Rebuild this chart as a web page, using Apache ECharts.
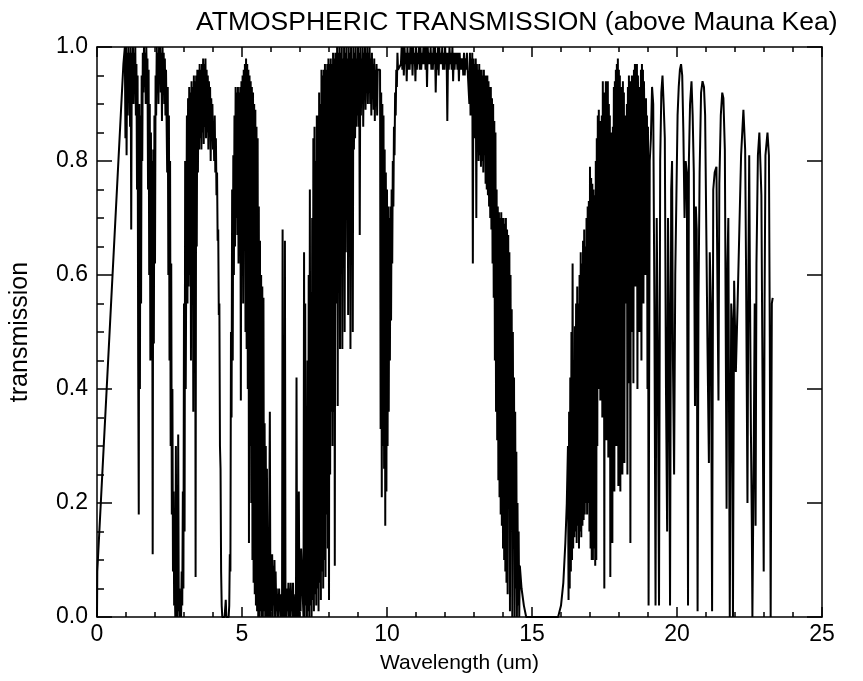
<!DOCTYPE html>
<html>
<head>
<meta charset="utf-8">
<title>Atmospheric transmission</title>
<script src="https://cdn.jsdelivr.net/npm/echarts@6/dist/echarts.min.js"></script>
<style>
  html, body { margin: 0; padding: 0; background: #fff; }
  #chart { width: 863px; height: 681px; }
</style>
</head>
<body>
<div id="chart"></div>
<script>
// wavelength (um) and transmission

// rise from 0 to the first window
const wlRise = [0, 0.01, 0.91];
const trRise = [0, 0.08, 0.97];

// J / H windows and the 1.4, 1.9 um water bands
const wlJH = [0.96,0.98,1.00,1.02,1.04,1.06,1.08,1.10,1.12,1.14,1.16,1.18,1.20,1.22,1.24,1.26,1.28,1.30,1.32,1.34,
  1.36,1.38,1.40,1.42,1.44,1.46,1.48,1.50,1.52,1.54,1.56,1.58,1.60,1.62,1.64,1.66,1.68,1.70,1.72,1.74,
  1.76,1.78,1.80,1.82,1.84,1.86,1.88,1.90,1.92,1.94,1.96,1.98,2.00,2.02,2.04,2.06,2.08,2.10,2.12,2.14,
  2.16,2.18,2.20,2.22,2.24,2.26,2.28,2.30,2.32,2.34,2.36,2.38];
const trJH = [1.00,0.84,1.00,0.81,0.99,0.88,1.00,0.92,0.99,0.86,1.00,0.68,0.99,0.93,1.00,0.90,0.99,0.94,1.00,0.88,
  0.97,0.75,0.95,0.45,0.18,0.90,0.40,0.88,0.55,0.95,0.80,0.99,0.92,1.00,0.93,0.99,0.90,1.00,0.94,0.98,
  0.75,0.96,0.60,0.90,0.45,0.85,0.50,0.80,0.11,0.82,0.48,0.88,0.62,0.95,0.88,1.00,0.93,0.99,0.90,1.00,
  0.95,1.00,0.92,0.99,0.87,1.00,0.94,0.99,0.90,0.98,0.88,0.96];

// 2.7 um water band
const wl27 = [2.42,2.44,2.46,2.48,2.50,2.52,2.54,2.56,2.58,2.60,2.62,2.64,2.66,2.68,2.70,2.72,2.74,2.76,2.78,2.80,
  2.82,2.84,2.86,2.88,2.90,2.92,2.94,2.96,2.98,3.00,3.02,3.04,3.06];
const tr27 = [0.78,0.93,0.60,0.88,0.45,0.80,0.30,0.62,0.18,0.40,0.08,0.22,0.02,0.06,0.00,0.30,0.00,0.04,0.00,0.32,
  0.01,0.05,0.00,0.04,0.00,0.08,0.02,0.22,0.05,0.55,0.15,0.80,0.40];

// L window
const wlL = [3.10,3.12,3.14,3.16,3.18,3.20,3.22,3.24,3.26,3.28,3.30,3.32,3.34,3.36,3.38,3.40,3.42,3.44,3.46,3.48,
  3.50,3.52,3.54,3.56,3.58,3.60,3.62,3.64,3.66,3.68,3.70,3.72,3.74,3.76,3.78,3.80,3.82,3.84,3.86,3.88,
  3.90,3.92,3.94,3.96,3.98,4.00,4.02,4.04,4.06,4.08,4.10,4.12,4.14,4.16,4.18,4.20,4.22,4.24,4.26,4.28,
  4.30,4.32];
const trL = [0.88,0.55,0.91,0.58,0.93,0.60,0.92,0.45,0.94,0.62,0.93,0.36,0.95,0.60,0.94,0.07,0.95,0.65,0.96,0.78,
  0.96,0.82,0.97,0.84,0.96,0.82,0.97,0.85,0.98,0.83,0.97,0.86,0.98,0.84,0.96,0.85,0.95,0.82,0.94,0.86,
  0.93,0.80,0.91,0.85,0.90,0.82,0.86,0.80,0.88,0.78,0.84,0.74,0.78,0.66,0.68,0.53,0.55,0.30,0.26,0.08,
  0.02,0.00];

// CO2 4.3 um band and M window
const wlM = [4.40,4.44,4.46,4.54,4.56,4.58,4.60,4.62,4.64,4.66,4.68,4.70,4.72,4.74,
  4.76,4.78,4.80,4.82,4.84,4.86,4.88,4.90,4.92,4.94,4.96,4.98,5.00,5.02,5.04,5.06,5.08,5.10,5.12,5.14,
  5.16,5.18,5.20,5.22,5.24,5.26,5.28,5.30,5.32,5.34,5.36,5.38,5.40,5.42,5.44,5.46,5.48,5.50,5.52,5.54,
  5.56,5.58,5.60,5.62,5.64,5.66,5.68,5.70,5.72,5.74,5.76,5.78,5.80,5.82,5.84,5.86,5.88,5.90,5.92];
const trM = [0.00,0.03,0.00,0.00,0.02,0.11,0.08,0.50,0.35,0.75,0.45,0.81,0.60,0.88,
  0.65,0.93,0.70,0.92,0.67,0.93,0.62,0.92,0.70,0.93,0.38,0.94,0.60,0.95,0.55,0.96,0.67,0.97,0.50,0.98,
  0.47,0.97,0.40,0.96,0.13,0.95,0.30,0.94,0.20,0.93,0.10,0.92,0.06,0.90,0.04,0.89,0.02,0.86,0.01,0.84,
  0.00,0.72,0.00,0.66,0.01,0.60,0.00,0.58,0.00,0.56,0.01,0.34,0.00,0.30,0.00,0.26,0.00,0.11,0.00];

// 6.3 um water band
const wl6 = [5.96,5.98,6.00,6.02,6.04,6.06,6.08,6.10,6.12,6.14,6.16,6.18,6.20,6.22,6.24,6.26,6.28,6.30,6.32,6.34,
  6.36,6.38,6.40,6.42,6.44,6.46,6.48,6.50,6.52,6.54,6.56,6.58,6.60,6.62,6.64,6.66,6.68,6.70,6.72,6.74,
  6.76,6.78,6.80,6.82,6.84,6.86,6.88,6.90,6.92,6.94,6.96,6.98,7.00,7.02,7.04];
const tr6 = [0.36,0.00,0.10,0.01,0.11,0.00,0.09,0.02,0.10,0.00,0.08,0.01,0.05,0.00,0.04,0.00,0.05,0.01,0.04,0.00,
  0.04,0.00,0.68,0.00,0.03,0.00,0.66,0.00,0.04,0.00,0.05,0.01,0.06,0.00,0.05,0.00,0.06,0.01,0.04,0.00,
  0.06,0.00,0.03,0.00,0.04,0.00,0.42,0.00,0.03,0.00,0.22,0.00,0.10,0.01,0.12];

// N window, rising side
const wlN1 = [7.12,7.14,7.16,7.18,7.20,7.22,7.24,7.26,7.28,7.30,7.32,7.34,7.36,7.38,7.40,7.42,7.44,7.46,7.48,7.50,
  7.52,7.54,7.56,7.58,7.60,7.62,7.64,7.66,7.68,7.70,7.72,7.74,7.76,7.78,7.80,7.82,7.84,7.86,7.88,7.90,
  7.92,7.94,7.96,7.98,8.00,8.02,8.04,8.06,8.08,8.10,8.12,8.14,8.16,8.18,8.20,8.22];
const trN1 = [0.00,0.64,0.00,0.55,0.02,0.30,0.00,0.45,0.01,0.60,0.00,0.75,0.02,0.57,0.00,0.70,0.03,0.84,0.01,0.86,
  0.04,0.80,0.02,0.88,0.05,0.88,0.01,0.92,0.06,0.90,0.03,0.96,0.08,0.95,0.05,0.96,0.10,0.97,0.07,0.96,
  0.18,0.97,0.12,0.98,0.03,0.97,0.25,0.98,0.36,0.97,0.30,0.99,0.36,0.98,0.09,0.99];

// N window, top
const wlN2 = [8.26,8.28,8.30,8.32,8.34,8.36,8.38,8.40,8.42,8.44,8.46,8.48,8.50,8.52,8.54,8.56,8.58,8.60,8.62,8.64,
  8.66,8.68,8.70,8.72,8.74,8.76,8.78,8.80,8.82,8.84,8.86,8.88,8.90,8.92,8.94,8.96,8.98,9.00,9.02,9.04,
  9.06,9.08,9.10,9.12,9.14,9.16,9.18,9.20,9.22,9.24,9.26,9.28,9.30,9.32,9.34,9.36,9.38,9.40,9.42,9.44,
  9.46,9.48,9.50,9.52,9.54,9.56,9.58,9.60,9.62,9.64,9.66,9.68];
const trN2 = [0.55,1.00,0.37,0.99,
  0.65,1.00,0.47,0.99,0.70,1.00,0.47,0.98,0.72,1.00,0.50,0.99,0.64,1.00,0.74,0.98,0.53,1.00,0.76,0.99,
  0.47,1.00,0.78,0.98,0.50,1.00,0.82,0.99,0.84,1.00,0.86,0.98,0.88,1.00,0.86,0.99,0.67,1.00,0.88,0.98,
  0.90,1.00,0.86,0.99,0.91,1.00,0.89,0.99,0.92,1.00,0.90,0.99,0.92,1.00,0.90,0.98,0.88,0.99,0.91,0.97,
  0.89,0.98,0.87,0.96,0.90,0.97,0.88,0.96];

// 9.6 um ozone band
const wlO3 = [9.76,9.78,9.80,9.82,9.84,9.86,9.88,9.90,9.92,9.94,9.96,9.98,10.00,10.02,10.04,10.06,10.08,10.10,10.12,10.14,
  10.16,10.18,10.20,10.22,10.24,10.26,10.28,10.30,10.32,10.34,10.36,10.38];
const trO3 = [0.96,0.33,0.92,0.21,0.90,0.30,0.88,0.26,0.82,0.16,0.78,0.22,0.75,0.30,0.72,0.36,0.70,0.45,0.72,0.52,
  0.75,0.62,0.80,0.72,0.86,0.81,0.92,0.88,0.96,0.93,0.99,0.96];

// clear 10-13 um window
const wlWin = [10.480,10.505,10.530,10.555,10.580,10.605,10.630,10.655,10.680,10.705,10.730,10.755,10.780,10.805,
  10.830,10.855,10.880,10.905,10.930,10.955,10.980,11.005,11.030,11.055,11.080,11.105,11.130,11.155,11.180,11.205,
  11.230,11.255,11.280,11.305,11.330,11.355,11.380,11.405,11.430,11.455,11.480,11.505,11.530,11.555,11.580,11.605,
  11.630,11.655,11.680,11.705,11.730,11.755,11.780,11.805,11.830,11.855,11.880,11.905,11.930,11.955,11.980,12.005,
  12.030,12.055,12.080,12.105,12.130,12.155,12.180,12.205,12.230,12.255,12.280,12.305,12.330,12.355,12.380,12.405,
  12.430,12.455,12.480,12.505,12.530,12.555,12.580,12.605,12.630,12.655,12.680,12.705,12.730,12.755,12.780];
const trWin = [0.97,1.00,0.96,1.00,0.95,1.00,0.97,0.99,0.94,1.00,0.96,0.99,0.96,1.00,
  0.97,1.00,0.95,1.00,0.97,0.99,0.94,1.00,0.96,0.99,0.97,1.00,0.96,1.00,0.96,0.99,
  0.97,1.00,0.97,1.00,0.96,1.00,0.93,1.00,0.97,0.99,0.97,1.00,0.96,0.99,0.96,1.00,
  0.97,1.00,0.92,0.99,0.96,1.00,0.95,1.00,0.97,0.99,0.97,1.00,0.96,0.99,0.96,1.00,
  0.97,0.99,0.87,0.99,0.96,1.00,0.97,0.99,0.96,1.00,0.94,0.99,0.96,0.99,0.97,0.99,
  0.96,0.99,0.94,0.99,0.96,0.98,0.96,0.98,0.95,0.99,0.95,0.98,0.96,0.99,0.96];

// edge of the 15 um CO2 band
const wlQ1 = [12.84,12.86,12.88,12.90,12.92,12.94,12.96,12.98,13.00,13.02,13.04,13.06,13.08,13.10,13.12,13.14,13.16,13.18,13.20,13.22,
  13.24,13.26,13.28,13.30,13.32,13.34,13.36,13.38,13.40,13.42,13.44,13.46,13.48,13.50,13.52,13.54,13.56,13.58,13.60,13.62,
  13.64,13.66,13.68,13.70,13.72,13.74,13.76,13.78,13.80,13.82,13.84,13.86,13.88,13.90,13.92,13.94,13.96,13.98,14.00,14.02,
  14.04,14.06,14.08,14.10,14.12,14.14,14.16,14.18,14.20,14.22,14.24,14.26,14.28,14.30,14.32,14.34,14.36,14.38,14.40,14.42,
  14.44,14.46,14.48,14.50,14.52,14.54,14.56,14.58,14.64,14.72,14.80];
const trQ1 = [0.90,0.99,0.88,0.98,0.90,0.99,0.62,0.98,0.86,0.97,0.84,0.98,0.70,0.97,0.83,0.96,0.80,0.97,0.81,0.96,
  0.79,0.96,0.80,0.95,0.78,0.96,0.81,0.95,0.76,0.95,0.75,0.95,0.74,0.94,0.72,0.93,0.70,0.93,0.68,0.91,
  0.62,0.90,0.56,0.87,0.45,0.85,0.36,0.75,0.31,0.72,0.24,0.71,0.21,0.70,0.18,0.71,0.16,0.70,0.12,0.70,
  0.10,0.69,0.08,0.70,0.06,0.68,0.04,0.67,0.19,0.64,0.01,0.60,0.17,0.54,0.00,0.50,0.13,0.42,0.00,0.36,
  0.05,0.29,0.00,0.20,0.02,0.15,0.00,0.09,0.05,0.02,0.00];

// Q band up to 19 um
const wlQ2 = [15.90,16.00,16.08,16.15,16.20,16.24,
  16.26,16.28,16.30,16.32,16.34,16.36,16.38,16.40,16.42,16.44,16.46,16.48,16.50,16.52,16.54,16.56,16.58,16.60,16.62,16.64,
  16.66,16.68,16.70,16.72,16.74,16.76,16.78,16.80,16.82,16.84,16.86,16.88,16.90,16.92,16.94,16.96,16.98,17.00,17.02,17.04,
  17.06,17.08,17.10,17.12,17.14,17.16,17.18,17.20,
  17.217,17.234,17.252,17.269,17.286,17.304,17.321,17.338,17.355,17.373,17.390,17.407,17.425,17.442,17.459,17.477,
  17.494,17.511,17.528,17.546,17.563,17.580,17.598,17.615,17.632,17.650,17.667,17.684,17.701,17.719,17.736,17.753,
  17.771,17.788,17.805,17.823,17.840,17.857,17.874,17.892,17.909,17.926,17.944,17.961,17.978,17.996,18.013,18.030,
  18.047,18.065,18.082,18.099,18.117,18.134,18.151,18.169,18.186,18.203,18.220,18.238,18.255,18.272,18.290,18.307,
  18.324,18.342,18.359,18.376,18.393,18.411,18.428,18.445,18.463,18.480,18.497,18.515,18.532,18.549,18.566,18.584,
  18.601,18.618,18.636,18.653,18.670,18.688,18.705,18.722,18.739,18.757,18.774,18.791,18.809,18.826,18.843,18.861,
  18.878,18.895,18.912,18.930,18.947,18.964,18.982,18.999];
const trQ2 = [0.00,0.02,0.06,0.13,0.20,0.30,
  0.03,0.36,0.05,0.42,0.08,0.50,0.10,0.62,0.12,0.45,0.14,0.51,0.15,0.55,0.13,0.58,0.16,0.55,0.12,0.60,
  0.15,0.64,0.14,0.62,0.16,0.66,0.17,0.68,0.18,0.65,0.20,0.70,0.18,0.72,0.20,0.73,0.15,0.79,0.12,0.77,
  0.10,0.76,0.10,0.75,0.12,0.74,0.09,0.80,0.10,0.84,0.30,0.88,0.40,0.89,0.55,0.87,0.38,0.86,0.60,0.88,
  0.35,0.94,0.62,0.92,0.05,0.90,0.58,0.94,0.31,0.93,0.65,0.94,0.28,0.90,0.60,0.88,0.07,0.85,0.55,0.80,
  0.13,0.86,0.62,0.93,0.22,0.94,0.65,0.96,0.30,0.97,0.70,0.98,0.23,0.96,0.68,0.95,0.22,0.93,0.72,0.90,
  0.25,0.94,0.60,0.92,0.27,0.88,0.55,0.85,0.70,0.90,0.25,0.93,0.55,0.95,0.41,0.92,0.13,0.94,0.50,0.95,
  0.62,0.94,0.41,0.96,0.70,0.97,0.58,0.96,0.75,0.97,0.40,0.95,0.80,0.93,0.50,0.92,0.78,0.96,0.45,0.97,
  0.82,0.96,0.55,0.94,0.85,0.90,0.60,0.91,0.82,0.88,0.40,0.86];

// single resolved lines out to the end of the data
const wlQ3 = [19.02,19.06,19.10,19.14,19.18,19.22,19.26,19.30,19.34,19.38,19.42,19.46,19.50,19.54,19.58,19.62,19.66,19.69,19.72,19.76,
  19.80,19.83,19.86,19.90,19.94,19.98,20.02,20.06,20.10,20.14,20.18,20.22,20.26,20.30,20.34,20.38,20.41,20.45,20.50,20.54,
  20.58,20.62,20.65,20.68,20.71,20.74,20.78,20.83,20.88,20.93,20.97,21.01,21.05,21.10,21.13,21.17,21.21,21.25,21.30,21.36,
  21.40,21.43,21.46,21.51,21.56,21.60,21.65,21.71,21.74,21.77,21.82,21.87,21.90,21.93,21.97,22.03,22.09,22.15,22.21,22.29,
  22.35,22.38,22.43,22.46,22.49,22.52,22.55,22.58,22.60,22.65,22.68,22.71,22.74,22.79,22.84,22.88,22.91,22.94,22.99,23.02,
  23.05,23.12,23.17,23.20,23.23,23.27,23.30];
const trQ3 = [0.02,0.80,0.84,0.93,0.90,0.55,0.02,0.70,0.45,0.02,0.80,0.92,0.95,0.90,0.84,0.40,0.15,0.70,0.55,0.02,
  0.75,0.80,0.45,0.25,0.60,0.74,0.88,0.93,0.96,0.97,0.95,0.85,0.70,0.80,0.78,0.02,0.80,0.90,0.94,0.88,
  0.78,0.37,0.72,0.68,0.01,0.55,0.78,0.92,0.94,0.93,0.88,0.68,0.48,0.27,0.64,0.55,0.01,0.75,0.78,0.79,
  0.55,0.38,0.76,0.88,0.92,0.91,0.82,0.19,0.62,0.70,0.00,0.55,0.52,0.00,0.59,0.43,0.55,0.68,0.81,0.89,
  0.82,0.62,0.20,0.59,0.81,0.55,0.32,0.16,0.00,0.32,0.55,0.16,0.62,0.81,0.85,0.79,0.74,0.49,0.08,0.55,
  0.81,0.85,0.81,0.49,0.00,0.55,0.56];

const bands = [
  [wlRise, trRise], [wlJH, trJH], [wl27, tr27], [wlL, trL], [wlM, trM], [wl6, tr6],
  [wlN1, trN1], [wlN2, trN2], [wlO3, trO3], [wlWin, trWin], [wlQ1, trQ1], [wlQ2, trQ2], [wlQ3, trQ3]
];

const spectrum = [];
bands.forEach(([wl, tr]) => {
  wl.forEach((w, i) => spectrum.push([w, tr[i]]));
});

const font = 'Liberation Sans';
const black = { color: '#000', width: 1.5 };

const chart = echarts.init(document.getElementById('chart'));

chart.setOption({
  animation: false,
  backgroundColor: '#fff',
  title: {
    text: 'ATMOSPHERIC TRANSMISSION (above Mauna Kea)',
    left: 191,
    top: 4,
    textStyle: { fontFamily: font, fontSize: 26.5, fontWeight: 'normal', color: '#000' }
  },
  grid: { left: 97, right: 41, top: 47, bottom: 64 },
  xAxis: [
    {
      type: 'value', min: 0, max: 25, interval: 5, position: 'bottom',
      axisLine: { onZero: false, lineStyle: black },
      axisTick: { inside: true, length: 10, lineStyle: black },
      minorTick: { show: true, splitNumber: 5, length: 5, lineStyle: black },
      splitLine: { show: false },
      axisLabel: { color: '#000', fontFamily: font, fontSize: 23, margin: 6 },
      name: 'Wavelength (um)',
      nameLocation: 'middle',
      nameGap: 36,
      nameTextStyle: { color: '#000', fontFamily: font, fontSize: 21 }
    },
    {
      // top edge of the box
      type: 'value', min: 0, max: 25, interval: 5, position: 'top',
      axisLine: { onZero: false, lineStyle: black },
      axisTick: { inside: true, length: 10, lineStyle: black },
      minorTick: { show: true, splitNumber: 5, length: 5, lineStyle: black },
      splitLine: { show: false },
      axisLabel: { show: false }
    }
  ],
  yAxis: [
    {
      type: 'value', min: 0, max: 1, interval: 0.2, position: 'left',
      axisLine: { onZero: false, lineStyle: black },
      axisTick: { inside: true, length: 15, lineStyle: black },
      minorTick: { show: true, splitNumber: 4, length: 7, lineStyle: black },
      splitLine: { show: false },
      axisLabel: {
        color: '#000', fontFamily: font, fontSize: 23, margin: 9,
        formatter: (v) => v.toFixed(1)
      },
      name: 'transmission',
      nameLocation: 'middle',
      nameRotate: 90,
      nameGap: 64,
      nameTextStyle: { color: '#000', fontFamily: font, fontSize: 25 }
    },
    {
      // right edge of the box
      type: 'value', min: 0, max: 1, interval: 0.2, position: 'right',
      axisLine: { onZero: false, lineStyle: black },
      axisTick: { inside: true, length: 15, lineStyle: black },
      splitLine: { show: false },
      axisLabel: { show: false }
    }
  ],
  series: [
    {
      type: 'line',
      xAxisIndex: 0,
      yAxisIndex: 0,
      data: spectrum,
      symbol: 'none',
      silent: true,
      lineStyle: { color: '#000', width: 2 }
    }
  ]
});
</script>
</body>
</html>
